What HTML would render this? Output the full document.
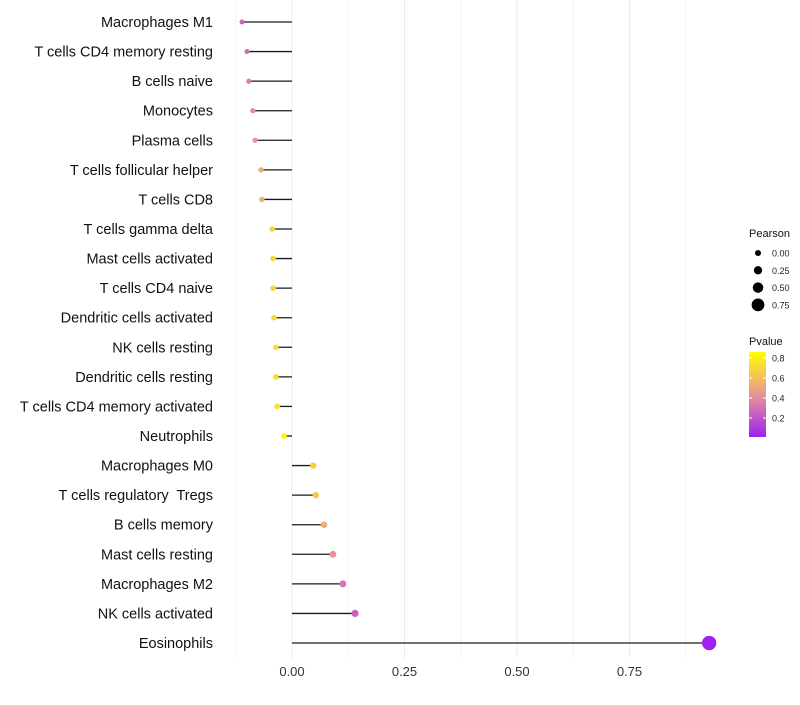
<!DOCTYPE html>
<html><head><meta charset="utf-8"><style>
body{margin:0;background:#fff;font-family:"Liberation Sans",sans-serif;}
svg text{font-family:"Liberation Sans",sans-serif;white-space:pre;}
</style></head><body>
<svg id="chart" width="800" height="700">
<g id="grid"></g>
<g id="marks"></g>
<g id="ylab"></g>
<g id="xlab"></g>
<g id="legend"></g>
</svg>
<script>
const categories=["Macrophages M1","T cells CD4 memory resting","B cells naive","Monocytes","Plasma cells","T cells follicular helper","T cells CD8","T cells gamma delta","Mast cells activated","T cells CD4 naive","Dendritic cells activated","NK cells resting","Dendritic cells resting","T cells CD4 memory activated","Neutrophils","Macrophages M0","T cells regulatory  Tregs","B cells memory","Mast cells resting","Macrophages M2","NK cells activated","Eosinophils"];
const pearson=[-0.111,-0.100,-0.096,-0.087,-0.082,-0.069,-0.067,-0.044,-0.042,-0.042,-0.040,-0.036,-0.036,-0.033,-0.018,0.047,0.053,0.071,0.091,0.113,0.140,0.927];
const pvalue=[0.25,0.30,0.33,0.40,0.44,0.53,0.55,0.68,0.70,0.70,0.71,0.73,0.73,0.74,0.82,0.66,0.64,0.54,0.42,0.32,0.24,0.01];
const xTicks=[0,0.25,0.5,0.75];
const xTickLabels=["0.00","0.25","0.50","0.75"];
const sizeTicks=[0,0.25,0.5,0.75];
const colorTicks=[0.2,0.4,0.6,0.8];
const NS="http://www.w3.org/2000/svg";
const x=v=>292+v*450;
const y=i=>22+i*(643-22)/(categories.length-1);
const rad=v=>Math.max(1.8,3+v*4.5);
const pmin=0.01,pmax=0.86;
function col(p){const t=Math.min(1,Math.max(0,(p-pmin)/(pmax-pmin)));
const a=[160,32,240],m=[232,150,150],b=[255,255,0];let c;
if(t<0.5){const u=t/0.5;c=a.map((v,k)=>Math.round(v+(m[k]-v)*u));}else{const u=(t-0.5)/0.5;c=m.map((v,k)=>Math.round(v+(b[k]-v)*u));}
return `rgb(${c[0]},${c[1]},${c[2]})`;}
function el(tag,attrs,parent,txt){const e=document.createElementNS(NS,tag);for(const k in attrs)e.setAttribute(k,attrs[k]);if(txt!==undefined)e.textContent=txt;parent.appendChild(e);return e;}
const G=document.getElementById('grid'),M=document.getElementById('marks'),YL=document.getElementById('ylab'),XL=document.getElementById('xlab'),L=document.getElementById('legend');
[-0.125,0,0.125,0.25,0.375,0.5,0.625,0.75,0.875].forEach(v=>{const g=el('line',{x1:x(v),x2:x(v),y1:0,y2:658,stroke:v%0.25===0?'#ebebeb':'#f4f4f4','stroke-width':1},G);

});
categories.forEach((c,i)=>{
const ln=el('line',{x1:x(0),x2:x(pearson[i]),y1:y(i),y2:y(i),stroke:'#1a1a1a','stroke-width':1.3},M);


const d=el('circle',{cx:x(pearson[i]),cy:y(i),r:rad(pearson[i]),fill:col(pvalue[i])},M);


const t=el('text',{x:213,y:y(i)+5,'text-anchor':'end','font-size':14.5,fill:'#111'},YL,c);

});
xTicks.forEach((v,i)=>{const t=el('text',{x:x(v),y:676,'text-anchor':'middle','font-size':13,fill:'#333'},XL,xTickLabels[i]);

});
const lt=el('text',{x:749,y:237,'font-size':11,fill:'#111'},L,'Pearson');


sizeTicks.forEach((v,i)=>{const cy=253+i*17.3;
const c=el('circle',{cx:758,cy:cy,r:rad(v),fill:'#000'},L);


const t=el('text',{x:772,y:cy+3.5,'font-size':9,fill:'#222'},L,v.toFixed(2));

});
const pt=el('text',{x:749,y:345,'font-size':11,fill:'#111'},L,'Pvalue');


const defs=el('defs',{},L);const lg=el('linearGradient',{id:'pg',x1:0,y1:1,x2:0,y2:0},defs);
for(let k=0;k<=10;k++){el('stop',{offset:k/10,'stop-color':col(pmin+(pmax-pmin)*k/10)},lg);}
const bar=el('rect',{x:749,y:352,width:17,height:85,fill:'url(#pg)'},L);


const py=p=>437-(p-pmin)/(pmax-pmin)*85;
colorTicks.forEach(v=>{
el('line',{x1:749,x2:752,y1:py(v),y2:py(v),stroke:'#fff'},L);
el('line',{x1:763,x2:766,y1:py(v),y2:py(v),stroke:'#fff'},L);
const t=el('text',{x:772,y:py(v)+3.5,'font-size':9,fill:'#222'},L,String(v));

});
</script>
</body></html>
